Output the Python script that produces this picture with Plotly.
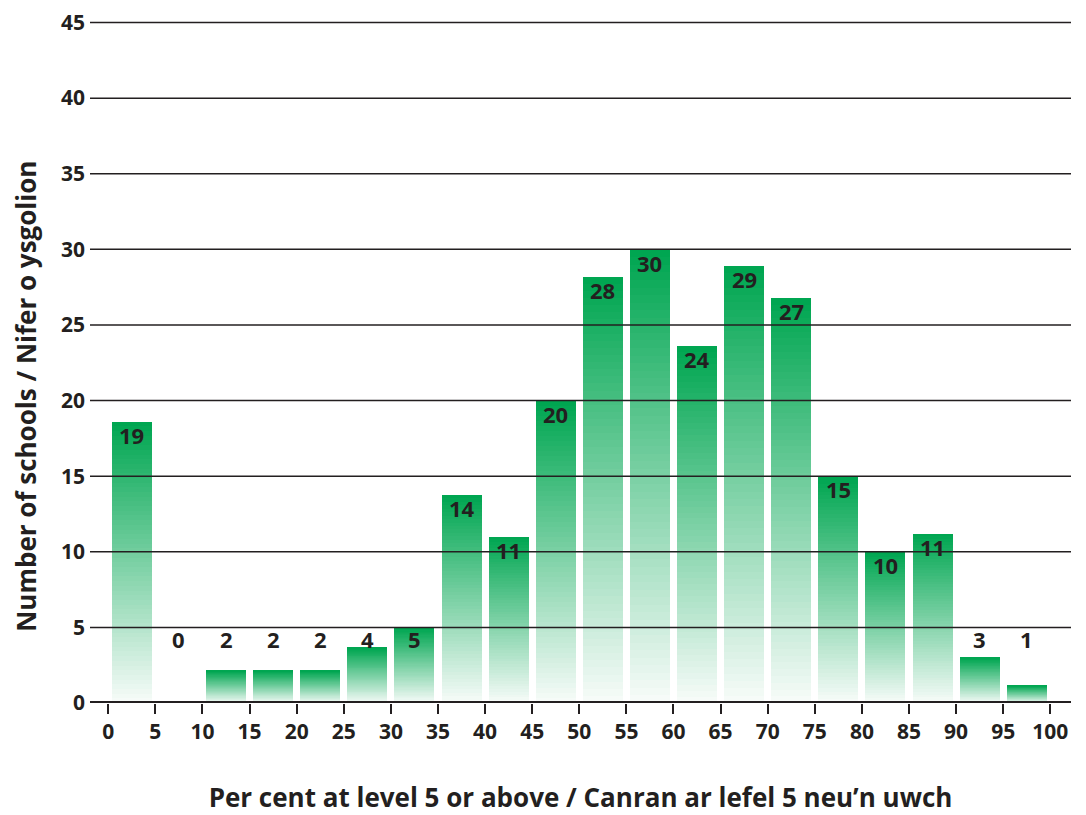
import plotly.graph_objects as go

# ---- data ----
bin_centers = [2.5, 7.5, 12.5, 17.5, 22.5, 27.5, 32.5, 37.5, 42.5, 47.5,
               52.5, 57.5, 62.5, 67.5, 72.5, 77.5, 82.5, 87.5, 92.5, 97.5]
bar_heights = [18.6, 0, 2.14, 2.14, 2.14, 3.66, 5.0, 13.77, 11.0, 20.0,
               28.18, 29.97, 23.62, 28.91, 26.79, 14.98, 10.0, 11.2, 3.0, 1.15]
bar_labels = [19, 0, 2, 2, 2, 4, 5, 14, 11, 20,
              28, 30, 24, 29, 27, 15, 10, 11, 3, 1]
x_ticks = list(range(0, 101, 5))
y_ticks = list(range(0, 46, 5))
x_title = "Per cent at level 5 or above / Canran ar lefel 5 neu\u2019n uwch"
y_title = "Number of schools / Nifer o ysgolion"

TEXT = "#231f20"
FONT = "Open Sans"
TOP = (0, 166, 81)
BOTTOM = (246, 251, 248)
N = 60

fig = go.Figure()
for i in range(N):
    t = i / (N - 1)  # 0 bottom -> 1 top
    c = tuple(round(BOTTOM[k] + (TOP[k] - BOTTOM[k]) * t) for k in range(3))
    fig.add_trace(go.Bar(
        x=bin_centers,
        y=[h / N for h in bar_heights],
        width=4.25,
        marker=dict(color="rgb(%d,%d,%d)" % c, line=dict(width=0)),
        hoverinfo="skip",
        showlegend=False,
    ))

# gridlines drawn above bars
shapes = []
for v in y_ticks[1:]:
    shapes.append(dict(type="line", xref="paper", x0=0, x1=1, yref="y", y0=v, y1=v,
                       line=dict(color=TEXT, width=1.5), layer="above"))
shapes.append(dict(type="line", xref="paper", x0=0, x1=1, yref="y", y0=0, y1=0,
                   line=dict(color=TEXT, width=4), layer="above"))

label_font = dict(family=FONT, size=22, color=TEXT, weight="bold")
annotations = []
for xc, h, lab in zip(bin_centers, bar_heights, bar_labels):
    if h > 5.5:
        annotations.append(dict(x=xc, y=h, xref="x", yref="y", text=str(lab),
                                showarrow=False, yanchor="middle", yshift=-13,
                                font=label_font))
    else:
        annotations.append(dict(x=xc, y=4.2, xref="x", yref="y", text=str(lab),
                                showarrow=False, yanchor="middle",
                                font=label_font))

# y-axis title (sits slightly below the plot's vertical centre in the reference)
annotations.append(dict(x=0, y=0.447, xref="paper", yref="paper", text=y_title,
                        textangle=-90, showarrow=False, xanchor="center", yanchor="middle",
                        xshift=-64, borderpad=0,
                        font=dict(family=FONT, size=26, color=TEXT, weight="bold")))

# page body has an 8px margin, so the figure is 8px smaller and shifted
fig.update_layout(
    template="none",
    width=1078, height=807,
    margin=dict(l=82, r=15, t=10, b=111.6, autoexpand=False),
    paper_bgcolor="white", plot_bgcolor="white",
    barmode="stack", bargap=0,
    shapes=shapes, annotations=annotations,
    font=dict(family=FONT, color=TEXT, weight="bold"),
    xaxis=dict(
        automargin=False,
        range=[-1.94, 102.2], tickvals=x_ticks, ticktext=[str(v) for v in x_ticks],
        ticks="outside", ticklen=10, tickwidth=1.5, tickcolor=TEXT,
        showgrid=False, zeroline=False, showline=False,
        ticklabeloverflow="allow",
        tickfont=dict(family=FONT, size=21, color=TEXT, weight="bold"),
        title=dict(text=x_title,
                   font=dict(family=FONT, size=26, color=TEXT, weight="bold"), standoff=49),
    ),
    yaxis=dict(
        automargin=False,
        range=[0, 45.3], tickvals=y_ticks, ticktext=[str(v) for v in y_ticks],
        ticks="", showgrid=False, zeroline=False, showline=False,
        ticklabelstandoff=4, ticklabeloverflow="allow",
        tickfont=dict(family=FONT, size=21, color=TEXT, weight="bold"),
    ),
)

fig.write_html("out.html")
